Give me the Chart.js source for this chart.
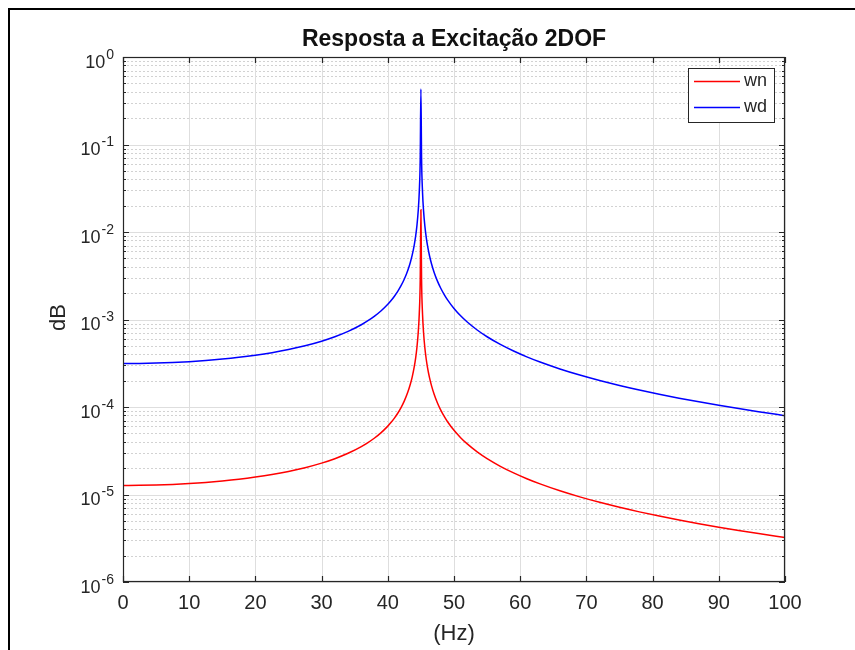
<!DOCTYPE html>
<html>
<head>
<meta charset="utf-8">
<script src="https://cdn.jsdelivr.net/npm/chart.js@4.4.0/dist/chart.umd.min.js"></script>
<style>
  html, body { margin: 0; padding: 0; background: #fff; }
  #wrap { position: relative; width: 855px; height: 650px; }
</style>
</head>
<body>
<div id="wrap"><canvas id="resp" width="855" height="650"></canvas></div>
<script>
// frequency samples (Hz), denser around the 45 Hz resonance
const freq = [0, 2.5, 5, 7.5, 10, 12.5, 15, 17.5, 20, 22.5,
  25, 27.5, 30, 32, 34, 36, 37, 38, 39, 40,
  40.5, 41, 41.5, 42, 42.5, 43, 43.4, 43.7, 44, 44.2,
  44.4, 44.6, 44.75, 44.9, 45, 45.1, 45.25, 45.4, 45.6, 45.8,
  46, 46.3, 46.6, 47, 47.5, 48, 48.5, 49, 50, 51,
  52, 53.5, 55, 57, 59, 61, 63, 66, 69, 72,
  75, 78, 81, 84, 87, 90, 93, 96, 100];

const wn = [1.269e-5, 1.273e-5, 1.285e-5, 1.305e-5, 1.335e-5, 1.375e-5, 1.428e-5, 1.495e-5, 1.582e-5, 1.692e-5,
  1.836e-5, 2.026e-5, 2.284e-5, 2.567e-5, 2.957e-5, 3.525e-5, 3.918e-5, 4.423e-5, 5.099e-5, 6.047e-5,
  6.68e-5, 7.471e-5, 8.489e-5, 9.847e-5, 1.175e-4, 1.46e-4, 1.817e-4, 2.229e-4, 2.888e-4, 3.601e-4,
  4.791e-4, 7.171e-4, 1.145e-3, 2.859e-3, 0.018, 2.852e-3, 1.139e-3, 7.107e-4, 4.728e-4, 3.538e-4,
  2.824e-4, 2.165e-4, 1.754e-4, 1.397e-4, 1.111e-4, 9.211e-5, 7.853e-5, 6.835e-5, 5.411e-5, 4.462e-5,
  3.785e-5, 3.07e-5, 2.57e-5, 2.1e-5, 1.765e-5, 1.515e-5, 1.322e-5, 1.103e-5, 9.393e-6, 8.135e-6,
  7.139e-6, 6.332e-6, 5.666e-6, 5.108e-6, 4.636e-6, 4.23e-6, 3.88e-6, 3.574e-6, 3.223e-6];

const wd = [3.136e-4, 3.146e-4, 3.175e-4, 3.225e-4, 3.299e-4, 3.398e-4, 3.528e-4, 3.695e-4, 3.908e-4, 4.181e-4,
  4.536e-4, 5.005e-4, 5.644e-4, 6.344e-4, 7.307e-4, 8.711e-4, 9.68e-4, 1.093e-3, 1.26e-3, 1.494e-3,
  1.65e-3, 1.846e-3, 2.097e-3, 2.433e-3, 2.903e-3, 3.608e-3, 4.49e-3, 5.507e-3, 7.135e-3, 8.899e-3,
  0.01184, 0.01772, 0.0283, 0.07063, 0.43, 0.07048, 0.02815, 0.01756, 0.01168, 8.742e-3,
  6.978e-3, 5.35e-3, 4.333e-3, 3.451e-3, 2.746e-3, 2.276e-3, 1.94e-3, 1.689e-3, 1.337e-3, 1.102e-3,
  9.352e-4, 7.584e-4, 6.35e-4, 5.188e-4, 4.361e-4, 3.744e-4, 3.266e-4, 2.724e-4, 2.321e-4, 2.01e-4,
  1.764e-4, 1.564e-4, 1.4e-4, 1.262e-4, 1.145e-4, 1.045e-4, 9.586e-5, 8.831e-5, 7.962e-5];

const xTicks = [0, 10, 20, 30, 40, 50, 60, 70, 80, 90, 100];
const yTickExps = [0, -1, -2, -3, -4, -5, -6];

const FONT = '"Liberation Sans", Arial, Helvetica, sans-serif';
const INK = '#262626';

const pts = arr => freq.map((f, i) => ({ x: f, y: arr[i] }));

// frame, grid, axes box, labels and legend drawn in MATLAB style
const matlabLook = {
  id: 'matlabLook',
  beforeDraw(chart) {
    const ctx = chart.ctx;
    ctx.save();
    ctx.fillStyle = '#fff';
    ctx.fillRect(0, 0, chart.width, chart.height);
    ctx.fillStyle = '#000';
    ctx.fillRect(8, 8, chart.width - 8, 2);
    ctx.fillRect(8, 8, 2, chart.height - 8);
    ctx.restore();
  },
  beforeDatasetsDraw(chart) {
    const { ctx, chartArea: a, scales: { x, y } } = chart;
    ctx.save();
    ctx.lineWidth = 1;
    // minor decades, dotted
    ctx.strokeStyle = '#d2d2d2';
    ctx.setLineDash([2, 2]);
    for (let e = -6; e < 0; e++) {
      for (let m = 2; m <= 9; m++) {
        const py = Math.round(y.getPixelForValue(m * Math.pow(10, e))) + 0.5;
        ctx.beginPath(); ctx.moveTo(a.left, py); ctx.lineTo(a.right, py); ctx.stroke();
      }
    }
    ctx.setLineDash([]);
    ctx.strokeStyle = '#dedede';
    yTickExps.forEach(e => {
      const py = Math.round(y.getPixelForValue(Math.pow(10, e))) + 0.5;
      ctx.beginPath(); ctx.moveTo(a.left, py); ctx.lineTo(a.right, py); ctx.stroke();
    });
    xTicks.forEach(v => {
      const px = Math.round(x.getPixelForValue(v)) + 0.5;
      ctx.beginPath(); ctx.moveTo(px, a.top); ctx.lineTo(px, a.bottom); ctx.stroke();
    });
    ctx.restore();
  },
  afterDatasetsDraw(chart) {
    const { ctx, chartArea: a, scales: { x, y } } = chart;
    ctx.save();
    // axes box and inward ticks
    ctx.strokeStyle = INK;
    ctx.lineWidth = 1.2;
    ctx.strokeRect(a.left + 0.5, a.top + 0.5, a.right - a.left - 1, a.bottom - a.top - 1);
    ctx.beginPath();
    xTicks.forEach(v => {
      const px = Math.round(x.getPixelForValue(v)) + 0.5;
      ctx.moveTo(px, a.bottom); ctx.lineTo(px, a.bottom - 6);
      ctx.moveTo(px, a.top); ctx.lineTo(px, a.top + 6);
    });
    for (let e = -6; e <= 0; e++) {
      const py = Math.round(y.getPixelForValue(Math.pow(10, e))) + 0.5;
      ctx.moveTo(a.left, py); ctx.lineTo(a.left + 6, py);
      ctx.moveTo(a.right, py); ctx.lineTo(a.right - 6, py);
      if (e === 0) continue;
      for (let m = 2; m <= 9; m++) {
        const pm = Math.round(y.getPixelForValue(m * Math.pow(10, e))) + 0.5;
        ctx.moveTo(a.left, pm); ctx.lineTo(a.left + 3, pm);
        ctx.moveTo(a.right, pm); ctx.lineTo(a.right - 3, pm);
      }
    }
    ctx.stroke();

    // y tick labels as 10 with raised exponent
    ctx.fillStyle = INK;
    ctx.textBaseline = 'middle';
    yTickExps.forEach(e => {
      const py = y.getPixelForValue(Math.pow(10, e));
      const exp = String(e);
      ctx.font = '14px ' + FONT;
      const we = ctx.measureText(exp).width;
      ctx.textAlign = 'left';
      ctx.fillText(exp, 114 - we, py - 2);
      ctx.font = '18px ' + FONT;
      ctx.textAlign = 'right';
      ctx.fillText('10', 114 - we - 1, py + 6);
    });

    // title and axis names
    const cx = (a.left + a.right) / 2;
    ctx.textAlign = 'center';
    ctx.textBaseline = 'alphabetic';
    ctx.fillStyle = '#111';
    ctx.font = 'bold 23px ' + FONT;
    ctx.fillText('Resposta a Excitação 2DOF', cx, 46);
    ctx.fillStyle = INK;
    ctx.font = '22px ' + FONT;
    ctx.textBaseline = 'middle';
    ctx.fillText('(Hz)', cx, 634);
    ctx.save();
    ctx.translate(59, (a.top + a.bottom) / 2 - 2);
    ctx.rotate(-Math.PI / 2);
    ctx.fillText('dB', 0, 0);
    ctx.restore();

    // legend box
    const lx = 688, ly = 68, lw = 86, lh = 54;
    ctx.fillStyle = '#fff';
    ctx.fillRect(lx, ly, lw, lh);
    ctx.strokeStyle = INK;
    ctx.lineWidth = 1;
    ctx.strokeRect(lx + 0.5, ly + 0.5, lw, lh);
    ctx.font = '18px ' + FONT;
    ctx.textAlign = 'left';
    chart.data.datasets.forEach((ds, i) => {
      const yy = ly + 13.5 + i * 26;
      ctx.strokeStyle = ds.borderColor;
      ctx.lineWidth = 1.5;
      ctx.beginPath(); ctx.moveTo(lx + 6, yy); ctx.lineTo(lx + 52, yy); ctx.stroke();
      ctx.fillStyle = INK;
      ctx.fillText(ds.label, lx + 56, yy);
    });
    ctx.restore();
  }
};

new Chart(document.getElementById('resp'), {
  type: 'line',
  data: {
    datasets: [
      { label: 'wn', data: pts(wn), borderColor: '#ff0000' },
      { label: 'wd', data: pts(wd), borderColor: '#0000ff' }
    ]
  },
  options: {
    responsive: false,
    animation: false,
    layout: { padding: { left: 0, right: 70, top: 57, bottom: 0 } },
    plugins: { legend: { display: false }, title: { display: false }, tooltip: { enabled: false } },
    elements: {
      point: { radius: 0 },
      line: { borderWidth: 1.5, cubicInterpolationMode: 'monotone', fill: false }
    },
    scales: {
      x: {
        type: 'linear', min: 0, max: 100,
        grid: { display: false, drawTicks: false },
        border: { display: false },
        afterBuildTicks: s => { s.ticks = xTicks.map(v => ({ value: v })); },
        afterFit: s => { s.height = 68; },
        ticks: { autoSkip: false, maxRotation: 0, padding: 9, color: INK, font: { family: FONT, size: 20 } }
      },
      y: {
        type: 'logarithmic', min: 1e-6, max: 1,
        grid: { display: false, drawTicks: false },
        border: { display: false },
        ticks: { display: false },
        afterFit: s => { s.width = 123; }
      }
    }
  },
  plugins: [matlabLook]
});
</script>
</body>
</html>
